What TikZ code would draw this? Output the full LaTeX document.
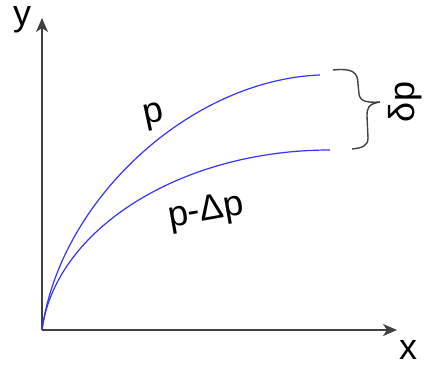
\documentclass[tikz,border=0pt]{standalone}
\usepackage{fontspec}
\setmainfont{Liberation Sans}
\usetikzlibrary{arrows.meta}
\begin{document}
\begin{tikzpicture}[x=1pt,y=-1pt,
  axis/.style={draw=black!75, line width=1.4pt, -{Stealth[length=14pt,width=12pt,inset=4pt]}},
  curve/.style={draw=blue!80!white, line width=1.2pt},
  bracestyle/.style={draw=black!75, line width=1.4pt},
  lbl/.style={font=\fontsize{36}{40}\selectfont, inner sep=0pt}]
\useasboundingbox (0,0) rectangle (427,371);
\coordinate (O) at (42,330);
\coordinate (ytip) at (42,18);
\coordinate (xtip) at (397,330);
\draw[axis] (O) -- (ytip);
\draw[axis] (O) -- (xtip);
\node[lbl] (ylab) at (22,20) {y};
\node[lbl] (xlab) at (408,350) {x};
\coordinate (pend) at (320,75);
\coordinate (qend) at (330,150);
\draw[curve] (O) .. controls (60,200) and (190,80) .. (pend);
\draw[curve] (O) .. controls (55,230) and (180,150) .. (qend);
\node[lbl, rotate=12] (plab) at (154,117) {p};
\node[lbl, rotate=10] (qlab) at (206,212) {p-Δp};
\coordinate (btop) at (333,70);
\coordinate (btip) at (380,102);
\coordinate (bbot) at (352,149);
\draw[bracestyle] (btop) .. controls (352,68) and (358,72) .. (358,84) -- (359,94) .. controls (360,101) and (366,103) .. (btip);
\draw[bracestyle] (btip) .. controls (368,104) and (367,108) .. (367,116) -- (368,138) .. controls (368,146) and (362,148) .. (bbot);
\node[lbl, rotate=90] (dlab) at (405,102) {δp};
\end{tikzpicture}
\end{document}
